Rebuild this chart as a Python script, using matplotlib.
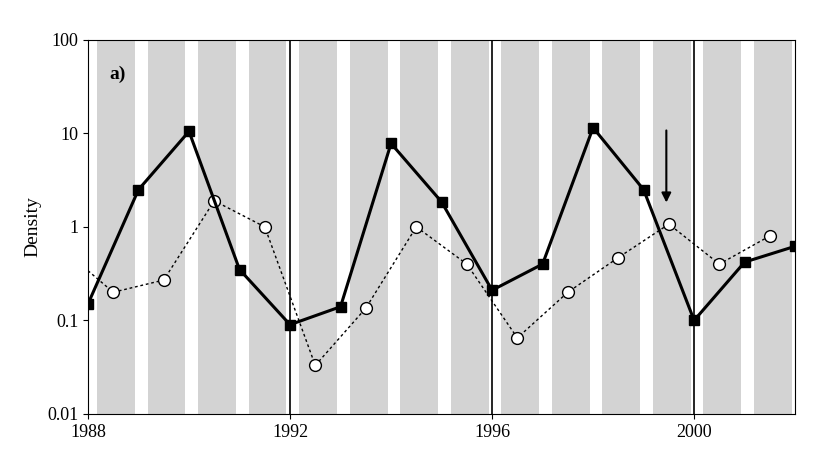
import matplotlib
matplotlib.use("Agg")
import matplotlib.pyplot as plt
import numpy as np

sq_years = [1988,1989,1990,1991,1992,1993,1994,1995,1996,1997,1998,1999,2000,2001,2002]
sq_vals = [0.15,2.5,10.5,0.35,0.09,0.14,7.8,1.85,0.21,0.4,11.5,2.5,0.1,0.42,0.62]
ci_years = [1988.5,1989.5,1990.5,1991.5,1992.5,1993.5,1994.5,1995.5,1996.5,1997.5,1998.5,1999.5,2000.5,2001.5]
ci_vals = [0.2,0.27,1.9,1.0,0.033,0.135,1.0,0.4,0.065,0.2,0.47,1.07,0.4,0.8]
dot_start = (1988.0, 0.34)

plt.rcParams['font.family'] = ['Liberation Serif', 'DejaVu Serif']
fig = plt.figure(figsize=(8.3, 4.63), dpi=100)
ax = fig.add_axes([0.106, 0.106, 0.852, 0.808])
for y in range(1988, 2002):
    ax.axvspan(y + 0.18, y + 0.93, color='#d3d3d3', lw=0, zorder=0)
for y in (1992, 1996, 2000):
    ax.axvline(y, color='black', lw=1.2, zorder=1)
ax.plot([dot_start[0]] + ci_years, [dot_start[1]] + ci_vals, ls=(0, (2, 2)), color='black', lw=1, zorder=2)
ax.plot(ci_years, ci_vals, 'o', ms=8.5, mfc='white', mec='black', mew=1, ls='none', zorder=3)
ax.plot(sq_years, sq_vals, '-s', color='black', lw=2.2, ms=7.5, zorder=4)
ax.annotate('', xy=(1999.45, 1.7), xytext=(1999.45, 11.5),
            arrowprops=dict(arrowstyle='-|>', color='black', lw=1.5, mutation_scale=14))
ax.set_yscale('log')
ax.set_ylim(0.01, 100)
ax.set_xlim(1988, 2002)
ax.set_xticks([1988, 1992, 1996, 2000])
ax.set_yticks([0.01, 0.1, 1, 10, 100])
ax.set_yticklabels(['0.01', '0.1', '1', '10', '100'])
ax.minorticks_off()
ax.tick_params(labelsize=13, direction='out')
ax.set_ylabel('Density', fontsize=14)
ax.text(0.03, 0.93, 'a)', transform=ax.transAxes, fontsize=14, fontweight='bold', va='top')
fig.savefig('out.png', dpi=100)
